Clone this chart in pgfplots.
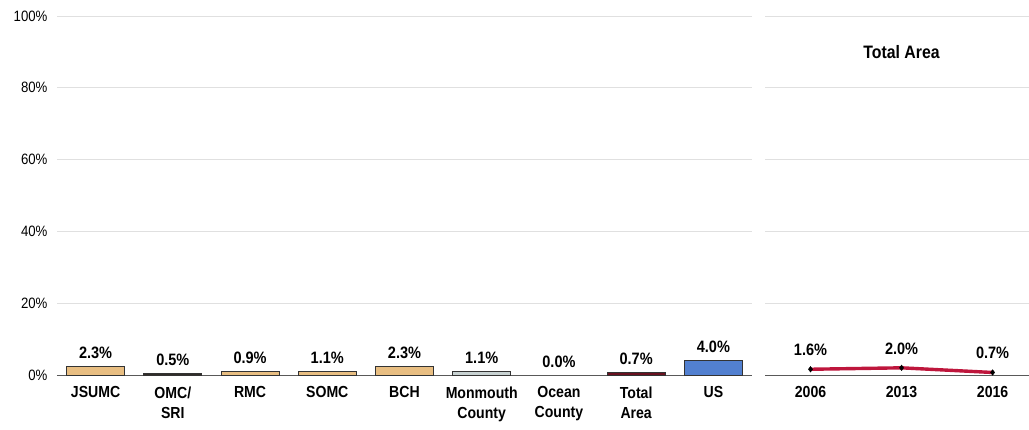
\documentclass[border=0pt]{standalone}
\usepackage{pgfplots}
\pgfplotsset{compat=1.18}
\usepackage{fontspec}
\setmainfont{Liberation Sans}[FakeStretch=0.88]
\definecolor{tanbar}{RGB}{232,190,130}
\definecolor{darkbar}{RGB}{50,45,40}
\definecolor{greybar}{RGB}{200,210,210}
\definecolor{maroonbar}{RGB}{105,18,32}
\definecolor{bluebar}{RGB}{82,128,208}
\definecolor{crimsonline}{RGB}{190,22,60}
\pgfplotsset{
  common/.style={
    scale only axis, height=359pt, ymin=0, ymax=100,
    ytick={0,20,...,100},
    ymajorgrids, major grid style={draw=black!12, line width=0.8pt},
    axis lines*=left, y axis line style={draw=none},
    x axis line style={draw=black!65, line width=0.9pt, -},
    tick style={draw=none}, clip=false,
    /pgf/number format/assume math mode=true,
    xticklabel style={font=\bfseries\fontsize{16}{20}\selectfont, align=center, yshift=-8pt},
    nodes near coords={\pgfmathprintnumber[fixed,fixed zerofill,precision=1]{\pgfplotspointmeta}\%},
    every node near coord/.append style={font=\bfseries\fontsize{16.5}{19}\selectfont, text=black, yshift=4pt},
  },
  bar/.style={ybar, bar width=58pt, bar shift=0pt, draw=black!80, line width=0.8pt},
}
\begin{document}
\begin{tikzpicture}[x=1pt,y=1pt]
\useasboundingbox (0,0) rectangle (1029,429);
\begin{axis}[common, at={(57pt,54pt)}, anchor=south west, width=695pt,
  xmin=-0.5, xmax=8.5,
  yticklabel={\pgfmathprintnumber{\tick}\%},
  yticklabel style={font=\fontsize{15}{18}\selectfont, xshift=-6pt},
  xtick={0,...,8},
  xticklabels={JSUMC, OMC/\\SRI, RMC, SOMC, BCH, Monmouth\\County, Ocean\\County, Total\\Area, US},
]
\addplot[bar, fill=tanbar] coordinates {(0,2.3)};
\addplot[bar, fill=darkbar] coordinates {(1,0.5)};
\addplot[bar, fill=tanbar] coordinates {(2,0.9)};
\addplot[bar, fill=tanbar] coordinates {(3,1.1)};
\addplot[bar, fill=tanbar] coordinates {(4,2.3)};
\addplot[bar, fill=greybar] coordinates {(5,1.1)};
\addplot[bar, draw=none, fill=none] coordinates {(6,0.0)};
\addplot[bar, fill=maroonbar] coordinates {(7,0.7)};
\addplot[bar, fill=bluebar] coordinates {(8,4.0)};
\end{axis}
\begin{axis}[common, at={(765pt,54pt)}, anchor=south west, width=264pt,
  xmin=-0.5, xmax=2.4,
  yticklabels={},
  xtick={0,1,2}, xticklabels={2006,2013,2016},
]
\addplot[color=crimsonline, line width=3.4pt, mark=diamond*,
  mark options={fill=black, draw=black, line width=0.4pt, scale=1.4},
  every node near coord/.append style={yshift=6pt}]
  coordinates {(0,1.6) (1,2.0) (2,0.7)};
\node[font=\bfseries\fontsize{18}{21}\selectfont] at (axis cs:1,90) {Total Area};
\end{axis}
\end{tikzpicture}
\end{document}
